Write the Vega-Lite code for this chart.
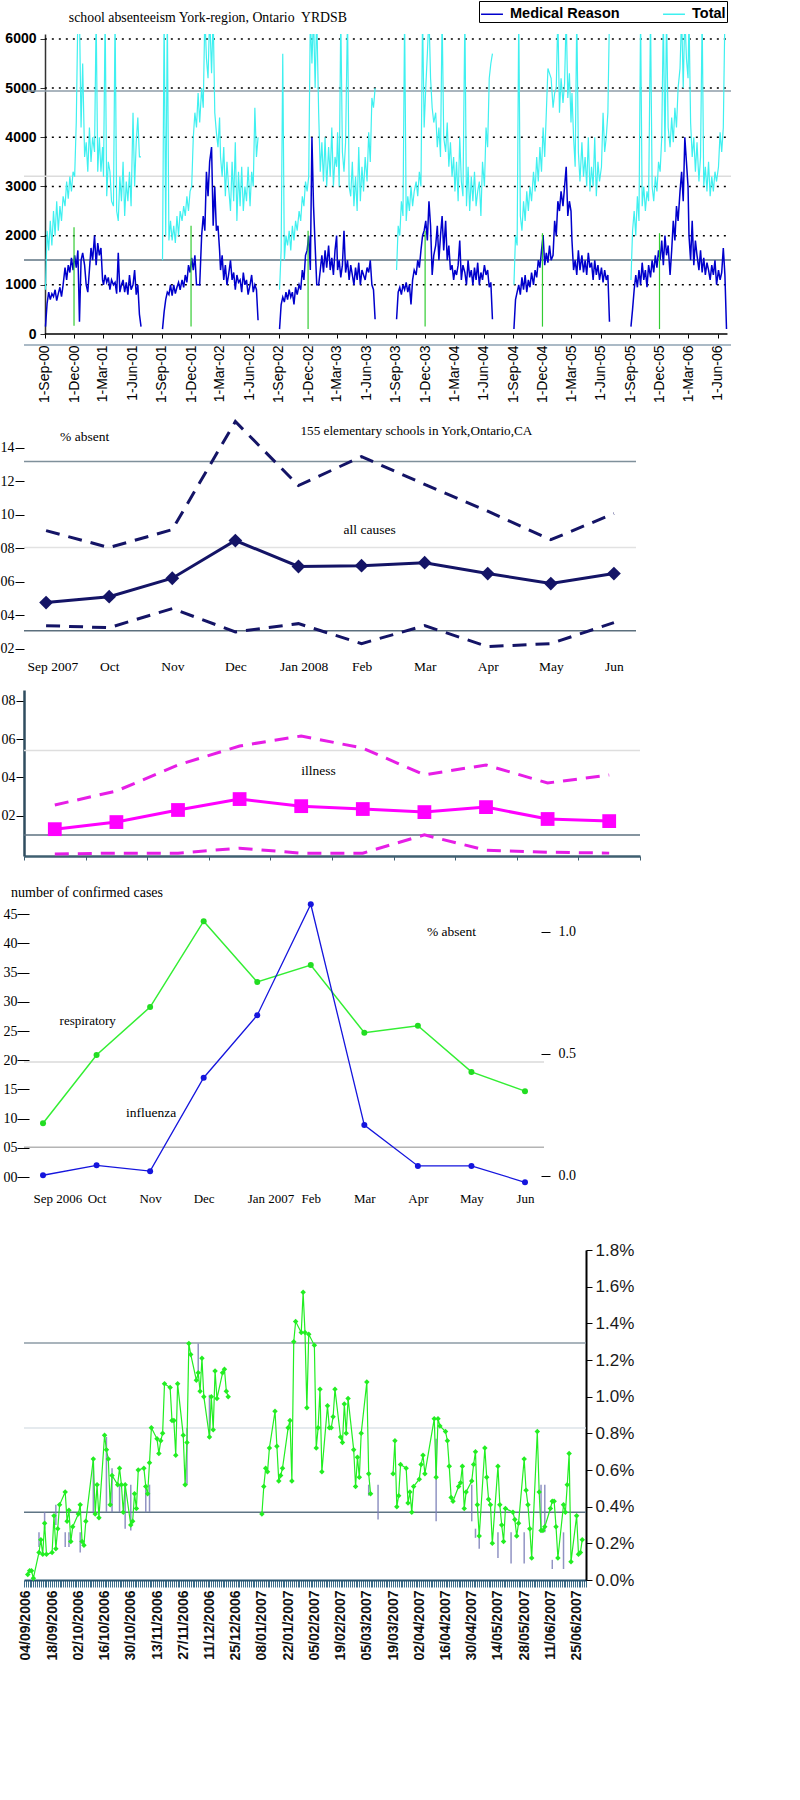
{
  "$schema": "https://vega.github.io/schema/vega-lite/v6.json",
  "padding": 0,
  "background": "white",
  "config": {
    "view": {"stroke": null},
    "font": "Liberation Sans",
    "axis": {"grid": false, "labelOverlap": false, "labelBound": false}
  },
  "datasets": {
    "abs": [
      {"d":"2000-09-03","m":150,"t":900},{"d":"2000-09-08","m":620,"t":2100},{"d":"2000-09-13","m":850,"t":1700},{"d":"2000-09-18","m":700,"t":2300},{"d":"2000-09-23","m":820,"t":1800},{"d":"2000-09-28","m":760,"t":2500},
      {"d":"2000-10-03","m":900,"t":2000},{"d":"2000-10-08","m":680,"t":2700},{"d":"2000-10-13","m":820,"t":2100},{"d":"2000-10-18","m":950,"t":2600},{"d":"2000-10-23","m":760,"t":2300},{"d":"2000-10-28","m":1000,"t":2800},
      {"d":"2000-11-03","m":1350,"t":2600},{"d":"2000-11-08","m":1100,"t":3100},{"d":"2000-11-13","m":1400,"t":2750},{"d":"2000-11-18","m":1250,"t":3200},{"d":"2000-11-23","m":1550,"t":2900},{"d":"2000-11-28","m":1300,"t":3300},
      {"d":"2000-12-03","m":1600,"t":3200},{"d":"2000-12-08","m":1350,"t":4300},{"d":"2000-12-13","m":1700,"t":6500},{"d":"2000-12-18","m":250,"t":6500},{"d":"2000-12-23","m":1500,"t":4200},{"d":"2000-12-28","m":1650,"t":5500},
      {"d":"2001-01-03","m":1400,"t":3600},{"d":"2001-01-08","m":1000,"t":3900},{"d":"2001-01-13","m":850,"t":3300},{"d":"2001-01-18","m":1300,"t":4200},{"d":"2001-01-23","m":1750,"t":3500},{"d":"2001-01-28","m":1500,"t":4000},
      {"d":"2001-02-03","m":2000,"t":3700},{"d":"2001-02-08","m":1400,"t":6500},{"d":"2001-02-13","m":1850,"t":3300},{"d":"2001-02-18","m":1600,"t":4000},{"d":"2001-02-23","m":1750,"t":3300},{"d":"2001-02-28","m":1100,"t":3800},
      {"d":"2001-03-03","m":1000,"t":3200},{"d":"2001-03-08","m":1200,"t":6500},{"d":"2001-03-13","m":1050,"t":2800},{"d":"2001-03-18","m":1150,"t":3500},{"d":"2001-03-23","m":900,"t":3300},{"d":"2001-03-28","m":1100,"t":2700},
      {"d":"2001-04-03","m":1000,"t":2600},{"d":"2001-04-08","m":1050,"t":6500},{"d":"2001-04-13","m":820,"t":2500},{"d":"2001-04-18","m":1650,"t":2300},{"d":"2001-04-23","m":850,"t":3200},{"d":"2001-04-28","m":1000,"t":2700},
      {"d":"2001-05-03","m":1100,"t":3500},{"d":"2001-05-08","m":850,"t":2400},{"d":"2001-05-13","m":1050,"t":3100},{"d":"2001-05-18","m":800,"t":2700},{"d":"2001-05-23","m":1200,"t":3300},{"d":"2001-05-28","m":900,"t":2600},
      {"d":"2001-06-03","m":1000,"t":4500},{"d":"2001-06-08","m":1300,"t":3000},{"d":"2001-06-13","m":800,"t":3900},{"d":"2001-06-18","m":1000,"t":4400},{"d":"2001-06-23","m":400,"t":3600},{"d":"2001-06-28","m":150,"t":3600},

      {"d":"2001-09-03","m":100,"t":1500},{"d":"2001-09-08","m":450,"t":6500},{"d":"2001-09-13","m":700,"t":2000},{"d":"2001-09-18","m":850,"t":6500},{"d":"2001-09-23","m":800,"t":1900},{"d":"2001-09-28","m":1000,"t":2300},
      {"d":"2001-10-03","m":780,"t":1900},{"d":"2001-10-08","m":1000,"t":2200},{"d":"2001-10-13","m":820,"t":1850},{"d":"2001-10-18","m":950,"t":2400},{"d":"2001-10-23","m":1050,"t":2000},{"d":"2001-10-28","m":900,"t":2500},
      {"d":"2001-11-03","m":1100,"t":2300},{"d":"2001-11-08","m":950,"t":2600},{"d":"2001-11-13","m":1200,"t":2400},{"d":"2001-11-18","m":1050,"t":2800},{"d":"2001-11-23","m":1400,"t":2500},{"d":"2001-11-28","m":1250,"t":2900},
      {"d":"2001-12-03","m":1550,"t":3000},{"d":"2001-12-08","m":1300,"t":4000},{"d":"2001-12-13","m":1600,"t":4500},{"d":"2001-12-18","m":1000,"t":4200},{"d":"2001-12-23","m":1000,"t":4900},{"d":"2001-12-28","m":1000,"t":4300},
      {"d":"2002-01-03","m":2000,"t":5000},{"d":"2002-01-08","m":2400,"t":4600},{"d":"2002-01-13","m":2100,"t":6500},{"d":"2002-01-18","m":3300,"t":5600},{"d":"2002-01-23","m":2800,"t":5200},{"d":"2002-01-28","m":3500,"t":6500},
      {"d":"2002-02-03","m":3800,"t":5300},{"d":"2002-02-08","m":2200,"t":6500},{"d":"2002-02-13","m":3000,"t":4500},{"d":"2002-02-18","m":2100,"t":4100},{"d":"2002-02-23","m":2200,"t":3800},{"d":"2002-02-28","m":1700,"t":4400},
      {"d":"2002-03-03","m":1300,"t":3600},{"d":"2002-03-08","m":1600,"t":3200},{"d":"2002-03-13","m":1100,"t":3800},{"d":"2002-03-18","m":1400,"t":2800},{"d":"2002-03-23","m":1000,"t":3500},{"d":"2002-03-28","m":1200,"t":3000},
      {"d":"2002-04-03","m":1500,"t":2500},{"d":"2002-04-08","m":1100,"t":3500},{"d":"2002-04-13","m":1250,"t":2700},{"d":"2002-04-18","m":900,"t":3900},{"d":"2002-04-23","m":1200,"t":2300},{"d":"2002-04-28","m":1050,"t":3300},
      {"d":"2002-05-03","m":1100,"t":2600},{"d":"2002-05-08","m":850,"t":3400},{"d":"2002-05-13","m":1250,"t":2500},{"d":"2002-05-18","m":1000,"t":3000},{"d":"2002-05-23","m":1100,"t":2700},{"d":"2002-05-28","m":800,"t":3400},
      {"d":"2002-06-03","m":1000,"t":2600},{"d":"2002-06-08","m":1200,"t":3300},{"d":"2002-06-13","m":850,"t":3000},{"d":"2002-06-18","m":1000,"t":4600},{"d":"2002-06-23","m":900,"t":3600},{"d":"2002-06-28","m":280,"t":4000},

      {"d":"2002-09-03","m":100,"t":900},{"d":"2002-09-08","m":600,"t":1700},{"d":"2002-09-13","m":750,"t":5700},{"d":"2002-09-18","m":650,"t":1500},{"d":"2002-09-23","m":850,"t":2000},{"d":"2002-09-28","m":700,"t":1800},
      {"d":"2002-10-03","m":900,"t":2100},{"d":"2002-10-08","m":750,"t":1700},{"d":"2002-10-13","m":850,"t":2200},{"d":"2002-10-18","m":600,"t":1900},{"d":"2002-10-23","m":950,"t":2300},{"d":"2002-10-28","m":800,"t":2100},
      {"d":"2002-11-03","m":1000,"t":2500},{"d":"2002-11-08","m":900,"t":2300},{"d":"2002-11-13","m":1300,"t":2800},{"d":"2002-11-18","m":1100,"t":2600},{"d":"2002-11-23","m":1600,"t":3100},{"d":"2002-11-28","m":1700,"t":2900},
      {"d":"2002-12-03","m":2000,"t":3200},{"d":"2002-12-08","m":1300,"t":6500},{"d":"2002-12-13","m":4000,"t":5500},{"d":"2002-12-18","m":2600,"t":6500},{"d":"2002-12-23","m":1800,"t":5000},{"d":"2002-12-28","m":1000,"t":6500},
      {"d":"2003-01-03","m":1000,"t":4500},{"d":"2003-01-08","m":1300,"t":3300},{"d":"2003-01-13","m":1600,"t":3900},{"d":"2003-01-18","m":1250,"t":3100},{"d":"2003-01-23","m":1700,"t":4000},{"d":"2003-01-28","m":1350,"t":3000},
      {"d":"2003-02-03","m":1800,"t":3800},{"d":"2003-02-08","m":1300,"t":3200},{"d":"2003-02-13","m":1550,"t":4200},{"d":"2003-02-18","m":1200,"t":3000},{"d":"2003-02-23","m":1700,"t":3600},{"d":"2003-02-28","m":2000,"t":3400},
      {"d":"2003-03-03","m":1300,"t":4100},{"d":"2003-03-08","m":1500,"t":3000},{"d":"2003-03-13","m":1150,"t":6500},{"d":"2003-03-18","m":1400,"t":3700},{"d":"2003-03-23","m":2100,"t":3300},{"d":"2003-03-28","m":1250,"t":3900},
      {"d":"2003-04-03","m":1500,"t":6500},{"d":"2003-04-08","m":1100,"t":3000},{"d":"2003-04-13","m":1400,"t":2800},{"d":"2003-04-18","m":1200,"t":3500},{"d":"2003-04-23","m":1000,"t":2600},{"d":"2003-04-28","m":1350,"t":3200},
      {"d":"2003-05-03","m":1100,"t":2500},{"d":"2003-05-08","m":1450,"t":3800},{"d":"2003-05-13","m":1000,"t":2700},{"d":"2003-05-18","m":1300,"t":3400},{"d":"2003-05-23","m":1200,"t":2900},{"d":"2003-05-28","m":1100,"t":3600},
      {"d":"2003-06-03","m":1350,"t":3100},{"d":"2003-06-08","m":1250,"t":4100},{"d":"2003-06-13","m":1500,"t":3500},{"d":"2003-06-18","m":1000,"t":4800},{"d":"2003-06-23","m":900,"t":4600},{"d":"2003-06-28","m":300,"t":5000},

      {"d":"2003-09-03","m":300,"t":1300},{"d":"2003-09-08","m":850,"t":2200},{"d":"2003-09-13","m":950,"t":2000},{"d":"2003-09-18","m":800,"t":2700},{"d":"2003-09-23","m":1000,"t":2400},{"d":"2003-09-28","m":900,"t":6500},
      {"d":"2003-10-03","m":1050,"t":2300},{"d":"2003-10-08","m":850,"t":2800},{"d":"2003-10-13","m":1000,"t":2500},{"d":"2003-10-18","m":600,"t":3000},{"d":"2003-10-23","m":1100,"t":2600},{"d":"2003-10-28","m":1300,"t":2900},
      {"d":"2003-11-03","m":1200,"t":3100},{"d":"2003-11-08","m":1500,"t":2800},{"d":"2003-11-13","m":1350,"t":3300},{"d":"2003-11-18","m":1700,"t":3000},{"d":"2003-11-23","m":2000,"t":6500},{"d":"2003-11-28","m":2100,"t":4200},
      {"d":"2003-12-03","m":2300,"t":5000},{"d":"2003-12-08","m":1900,"t":5700},{"d":"2003-12-13","m":2700,"t":6500},{"d":"2003-12-18","m":2200,"t":5200},{"d":"2003-12-23","m":1200,"t":4600},{"d":"2003-12-28","m":1600,"t":4300},
      {"d":"2004-01-03","m":1800,"t":4500},{"d":"2004-01-08","m":2200,"t":3800},{"d":"2004-01-13","m":1500,"t":4200},{"d":"2004-01-18","m":2000,"t":3600},{"d":"2004-01-23","m":2400,"t":6500},{"d":"2004-01-28","m":1700,"t":4000},
      {"d":"2004-02-03","m":2300,"t":3700},{"d":"2004-02-08","m":1500,"t":4300},{"d":"2004-02-13","m":1800,"t":3400},{"d":"2004-02-18","m":1300,"t":3900},{"d":"2004-02-23","m":1400,"t":3200},{"d":"2004-02-28","m":1100,"t":3600},
      {"d":"2004-03-03","m":1300,"t":2900},{"d":"2004-03-08","m":1200,"t":3500},{"d":"2004-03-13","m":1400,"t":2700},{"d":"2004-03-18","m":1900,"t":4000},{"d":"2004-03-23","m":1100,"t":3100},{"d":"2004-03-28","m":1400,"t":2800},
      {"d":"2004-04-03","m":1250,"t":6500},{"d":"2004-04-08","m":1000,"t":2600},{"d":"2004-04-13","m":1500,"t":3400},{"d":"2004-04-18","m":1150,"t":2500},{"d":"2004-04-23","m":1300,"t":3200},{"d":"2004-04-28","m":1000,"t":2700},
      {"d":"2004-05-03","m":1350,"t":3300},{"d":"2004-05-08","m":1100,"t":2600},{"d":"2004-05-13","m":1450,"t":2900},{"d":"2004-05-18","m":1000,"t":3100},{"d":"2004-05-23","m":1250,"t":2400},{"d":"2004-05-28","m":1100,"t":3500},
      {"d":"2004-06-03","m":1400,"t":3000},{"d":"2004-06-08","m":1200,"t":4200},{"d":"2004-06-13","m":1300,"t":3800},{"d":"2004-06-18","m":950,"t":5200},{"d":"2004-06-23","m":1050,"t":5500},{"d":"2004-06-28","m":300,"t":5700},

      {"d":"2004-09-03","m":100,"t":1000},{"d":"2004-09-08","m":700,"t":2000},{"d":"2004-09-13","m":850,"t":1800},{"d":"2004-09-18","m":1000,"t":6500},{"d":"2004-09-23","m":800,"t":2400},{"d":"2004-09-28","m":1150,"t":2100},
      {"d":"2004-10-03","m":900,"t":2700},{"d":"2004-10-08","m":1200,"t":2300},{"d":"2004-10-13","m":850,"t":2900},{"d":"2004-10-18","m":1100,"t":2500},{"d":"2004-10-23","m":950,"t":3000},{"d":"2004-10-28","m":1250,"t":2700},
      {"d":"2004-11-03","m":1000,"t":3300},{"d":"2004-11-08","m":1300,"t":2900},{"d":"2004-11-13","m":1150,"t":3600},{"d":"2004-11-18","m":1500,"t":3100},{"d":"2004-11-23","m":1350,"t":3800},{"d":"2004-11-28","m":1700,"t":3300},
      {"d":"2004-12-03","m":2000,"t":4200},{"d":"2004-12-08","m":1400,"t":3600},{"d":"2004-12-13","m":1650,"t":4500},{"d":"2004-12-18","m":1450,"t":5400},{"d":"2004-12-23","m":1800,"t":5300},{"d":"2004-12-28","m":1500,"t":5200},
      {"d":"2005-01-03","m":1600,"t":4600},{"d":"2005-01-08","m":2300,"t":4900},{"d":"2005-01-13","m":2000,"t":5000},{"d":"2005-01-18","m":2700,"t":6500},{"d":"2005-01-23","m":2500,"t":4500},{"d":"2005-01-28","m":2900,"t":5200},
      {"d":"2005-02-03","m":2600,"t":4700},{"d":"2005-02-08","m":3000,"t":5100},{"d":"2005-02-13","m":3400,"t":6500},{"d":"2005-02-18","m":2400,"t":4800},{"d":"2005-02-23","m":2700,"t":5300},{"d":"2005-02-28","m":2500,"t":4300},
      {"d":"2005-03-03","m":1900,"t":4900},{"d":"2005-03-08","m":1300,"t":4000},{"d":"2005-03-13","m":1500,"t":3400},{"d":"2005-03-18","m":1200,"t":6500},{"d":"2005-03-23","m":1700,"t":3700},{"d":"2005-03-28","m":1300,"t":3100},
      {"d":"2005-04-03","m":1600,"t":3900},{"d":"2005-04-08","m":1250,"t":3200},{"d":"2005-04-13","m":1500,"t":3600},{"d":"2005-04-18","m":1200,"t":3000},{"d":"2005-04-23","m":1650,"t":4000},{"d":"2005-04-28","m":1350,"t":2900},
      {"d":"2005-05-03","m":1450,"t":3400},{"d":"2005-05-08","m":1100,"t":3000},{"d":"2005-05-13","m":1500,"t":4000},{"d":"2005-05-18","m":1200,"t":2800},{"d":"2005-05-23","m":1400,"t":3500},{"d":"2005-05-28","m":1100,"t":3100},
      {"d":"2005-06-03","m":1350,"t":3400},{"d":"2005-06-08","m":1050,"t":4500},{"d":"2005-06-13","m":1300,"t":3700},{"d":"2005-06-18","m":1100,"t":4000},{"d":"2005-06-23","m":1200,"t":4500},{"d":"2005-06-28","m":250,"t":6500},

      {"d":"2005-09-03","m":150,"t":1100},{"d":"2005-09-08","m":500,"t":2100},{"d":"2005-09-13","m":900,"t":2500},{"d":"2005-09-18","m":1200,"t":2000},{"d":"2005-09-23","m":950,"t":2800},{"d":"2005-09-28","m":1300,"t":2300},
      {"d":"2005-10-03","m":1000,"t":6500},{"d":"2005-10-08","m":1450,"t":2600},{"d":"2005-10-13","m":1100,"t":3000},{"d":"2005-10-18","m":1300,"t":2500},{"d":"2005-10-23","m":950,"t":2900},{"d":"2005-10-28","m":1400,"t":2700},
      {"d":"2005-11-03","m":1150,"t":6500},{"d":"2005-11-08","m":1500,"t":3000},{"d":"2005-11-13","m":1250,"t":2700},{"d":"2005-11-18","m":1600,"t":3200},{"d":"2005-11-23","m":1350,"t":2900},{"d":"2005-11-28","m":1700,"t":3500},
      {"d":"2005-12-03","m":1500,"t":3300},{"d":"2005-12-08","m":1900,"t":4000},{"d":"2005-12-13","m":1400,"t":6500},{"d":"2005-12-18","m":2000,"t":3700},{"d":"2005-12-23","m":1600,"t":6500},{"d":"2005-12-28","m":1800,"t":4200},
      {"d":"2006-01-03","m":1200,"t":3800},{"d":"2006-01-08","m":1700,"t":4400},{"d":"2006-01-13","m":2300,"t":3900},{"d":"2006-01-18","m":1900,"t":4600},{"d":"2006-01-23","m":2600,"t":4200},{"d":"2006-01-28","m":2300,"t":5000},
      {"d":"2006-02-03","m":2900,"t":5400},{"d":"2006-02-08","m":3300,"t":6500},{"d":"2006-02-13","m":2700,"t":5000},{"d":"2006-02-18","m":4000,"t":6500},{"d":"2006-02-23","m":3500,"t":5600},{"d":"2006-02-28","m":3000,"t":5200},
      {"d":"2006-03-03","m":2000,"t":6500},{"d":"2006-03-08","m":1500,"t":4300},{"d":"2006-03-13","m":2300,"t":3600},{"d":"2006-03-18","m":1400,"t":4000},{"d":"2006-03-23","m":1900,"t":3300},{"d":"2006-03-28","m":1600,"t":3900},
      {"d":"2006-04-03","m":1300,"t":3100},{"d":"2006-04-08","m":1700,"t":3600},{"d":"2006-04-13","m":1250,"t":6500},{"d":"2006-04-18","m":1550,"t":3000},{"d":"2006-04-23","m":1200,"t":3400},{"d":"2006-04-28","m":1450,"t":2900},
      {"d":"2006-05-03","m":1300,"t":3500},{"d":"2006-05-08","m":1100,"t":2800},{"d":"2006-05-13","m":1400,"t":3200},{"d":"2006-05-18","m":1200,"t":2900},{"d":"2006-05-23","m":1500,"t":3300},{"d":"2006-05-28","m":1000,"t":3100},
      {"d":"2006-06-03","m":1300,"t":3400},{"d":"2006-06-08","m":1100,"t":4100},{"d":"2006-06-13","m":1250,"t":3700},{"d":"2006-06-18","m":1750,"t":4200},{"d":"2006-06-23","m":1200,"t":6500},{"d":"2006-06-28","m":100,"t":6500}
    ],
    "gr": [
      {"g":"2000-12-01","a":170,"b":2170},{"g":"2001-12-01","a":150,"b":2200},{"g":"2002-12-01","a":100,"b":2100},
      {"g":"2003-12-01","a":150,"b":2100},{"g":"2004-12-01","a":150,"b":2050},{"g":"2005-12-01","a":100,"b":2050}
    ],
    "grid": [{"v":1000},{"v":2000},{"v":3000},{"v":4000},{"v":5000},{"v":6000}],
    "ac": [
      {"m":"Sep 2007","all":4.75,"allHi":9.04,"allLo":3.37,"ill":1.3,"illHi":2.56,"illLo":0},
      {"m":"Oct","all":5.1,"allHi":8.03,"allLo":3.25,"ill":1.67,"illHi":3.29,"illLo":0.05},
      {"m":"Nov","all":6.2,"allHi":9.1,"allLo":4.39,"ill":2.3,"illHi":4.65,"illLo":0.05},
      {"m":"Dec","all":8.45,"allHi":15.55,"allLo":3.0,"ill":2.87,"illHi":5.64,"illLo":0.31},
      {"m":"Jan 2008","all":6.9,"allHi":11.73,"allLo":3.49,"ill":2.5,"illHi":6.16,"illLo":0.05},
      {"m":"Feb","all":6.95,"allHi":13.46,"allLo":2.3,"ill":2.35,"illHi":5.53,"illLo":0.05},
      {"m":"Mar","all":7.13,"allHi":11.8,"allLo":3.37,"ill":2.19,"illHi":4.13,"illLo":1.0},
      {"m":"Apr","all":6.48,"allHi":10.2,"allLo":2.12,"ill":2.45,"illHi":4.65,"illLo":0.2},
      {"m":"May","all":5.88,"allHi":8.5,"allLo":2.3,"ill":1.83,"illHi":3.71,"illLo":0.1},
      {"m":"Jun","all":6.48,"allHi":10.06,"allLo":3.55,"ill":1.72,"illHi":4.13,"illLo":0.05}
    ],
    "cc": [
      {"m":"Sep 2006","resp":9.2,"flu":0.3},{"m":"Oct","resp":20.9,"flu":2.0},{"m":"Nov","resp":29.1,"flu":1.0},
      {"m":"Dec","resp":43.8,"flu":17.0},{"m":"Jan 2007","resp":33.4,"flu":27.7},{"m":"Feb","resp":36.3,"flu":46.7},
      {"m":"Mar","resp":24.7,"flu":8.9},{"m":"Apr","resp":25.9,"flu":1.9},{"m":"May","resp":18.0,"flu":1.9},{"m":"Jun","resp":14.7,"flu":-0.9}
    ],
    "bars": [
      {"d":"2006-09-11","a":0.26,"b":0.18},{"d":"2006-09-14","a":0.37,"b":0.28},{"d":"2006-09-20","a":0.41,"b":0.30},
      {"d":"2006-09-25","a":0.26,"b":0.18},{"d":"2006-09-27","a":0.26,"b":0.18},{"d":"2006-10-03","a":0.26,"b":0.15},
      {"d":"2006-10-10","a":0.67,"b":0.37},{"d":"2006-10-17","a":0.78,"b":0.37},{"d":"2006-10-20","a":0.61,"b":0.37},
      {"d":"2006-10-24","a":0.52,"b":0.37},{"d":"2006-10-27","a":0.52,"b":0.28},{"d":"2006-10-30","a":0.52,"b":0.27},
      {"d":"2006-11-07","a":0.52,"b":0.37},{"d":"2006-11-09","a":0.52,"b":0.37},{"d":"2006-11-29","a":0.83,"b":0.52},
      {"d":"2006-12-05","a":1.29,"b":1.10},{"d":"2006-12-11","a":1.01,"b":0.77},
      {"d":"2007-03-06","a":0.52,"b":0.46},{"d":"2007-03-11","a":0.52,"b":0.33},{"d":"2007-04-11","a":0.77,"b":0.32},
      {"d":"2007-04-30","a":0.52,"b":0.32},{"d":"2007-05-02","a":0.28,"b":0.23},{"d":"2007-05-04","a":0.26,"b":0.17},
      {"d":"2007-05-14","a":0.26,"b":0.12},{"d":"2007-05-21","a":0.26,"b":0.09},{"d":"2007-05-28","a":0.26,"b":0.09},
      {"d":"2007-06-06","a":0.52,"b":0.26},{"d":"2007-06-08","a":0.52,"b":0.26},{"d":"2007-06-12","a":0.11,"b":0.06},
      {"d":"2007-06-18","a":0.26,"b":0.06}
    ],
    "daily": [
      {"d":"2006-09-05","v":0.03},{"d":"2006-09-06","v":0.05},{"d":"2006-09-07","v":0.05},{"d":"2006-09-08","v":0.01},
      {"d":"2006-09-11","v":0.15},{"d":"2006-09-12","v":0.22},{"d":"2006-09-13","v":0.14},{"d":"2006-09-14","v":0.31},{"d":"2006-09-15","v":0.14},
      {"d":"2006-09-18","v":0.15},{"d":"2006-09-19","v":0.35},{"d":"2006-09-20","v":0.17},{"d":"2006-09-21","v":0.28},{"d":"2006-09-22","v":0.41},
      {"d":"2006-09-25","v":0.48},{"d":"2006-09-26","v":0.32},{"d":"2006-09-27","v":0.38},{"d":"2006-09-28","v":0.21},{"d":"2006-09-29","v":0.29},
      {"d":"2006-10-02","v":0.36},{"d":"2006-10-03","v":0.41},{"d":"2006-10-04","v":0.21},{"d":"2006-10-05","v":0.19},{"d":"2006-10-06","v":0.32},
      {"d":"2006-10-10","v":0.66},{"d":"2006-10-11","v":0.36},{"d":"2006-10-12","v":0.52},{"d":"2006-10-13","v":0.34},
      {"d":"2006-10-16","v":0.79},{"d":"2006-10-17","v":0.71},{"d":"2006-10-18","v":0.66},{"d":"2006-10-19","v":0.41},{"d":"2006-10-20","v":0.57},
      {"d":"2006-10-23","v":0.52},{"d":"2006-10-24","v":0.61},{"d":"2006-10-25","v":0.52},{"d":"2006-10-26","v":0.37},{"d":"2006-10-27","v":0.52},
      {"d":"2006-10-30","v":0.30},{"d":"2006-10-31","v":0.32},{"d":"2006-11-01","v":0.47},{"d":"2006-11-02","v":0.39},{"d":"2006-11-03","v":0.60},
      {"d":"2006-11-06","v":0.61},{"d":"2006-11-07","v":0.51},{"d":"2006-11-08","v":0.47},{"d":"2006-11-09","v":0.64},{"d":"2006-11-10","v":0.83},
      {"d":"2006-11-13","v":0.77},{"d":"2006-11-14","v":0.69},{"d":"2006-11-15","v":0.76},{"d":"2006-11-16","v":0.80},{"d":"2006-11-17","v":1.07},
      {"d":"2006-11-20","v":1.05},{"d":"2006-11-21","v":0.87},{"d":"2006-11-22","v":0.87},{"d":"2006-11-23","v":0.68},{"d":"2006-11-24","v":1.07},
      {"d":"2006-11-27","v":0.79},{"d":"2006-11-28","v":0.52},{"d":"2006-11-29","v":0.75},{"d":"2006-11-30","v":1.29},{"d":"2006-12-01","v":1.23},
      {"d":"2006-12-04","v":1.09},{"d":"2006-12-05","v":1.13},{"d":"2006-12-06","v":1.03},{"d":"2006-12-07","v":1.21},{"d":"2006-12-08","v":1.00},
      {"d":"2006-12-11","v":0.78},{"d":"2006-12-12","v":1.00},{"d":"2006-12-13","v":0.82},{"d":"2006-12-14","v":1.14},{"d":"2006-12-15","v":0.99},
      {"d":"2006-12-18","v":1.13},{"d":"2006-12-19","v":1.15},{"d":"2006-12-20","v":1.03},{"d":"2006-12-21","v":1.00},
      {"d":"2007-01-08","v":0.36},{"d":"2007-01-09","v":0.51},{"d":"2007-01-10","v":0.61},{"d":"2007-01-11","v":0.59},{"d":"2007-01-12","v":0.72},
      {"d":"2007-01-15","v":0.92},{"d":"2007-01-16","v":0.73},{"d":"2007-01-17","v":0.54},{"d":"2007-01-18","v":0.57},{"d":"2007-01-19","v":0.61},
      {"d":"2007-01-22","v":0.83},{"d":"2007-01-23","v":0.87},{"d":"2007-01-24","v":0.54},{"d":"2007-01-25","v":1.30},{"d":"2007-01-26","v":1.41},
      {"d":"2007-01-29","v":1.35},{"d":"2007-01-30","v":1.57},{"d":"2007-01-31","v":1.35},{"d":"2007-02-01","v":0.94},{"d":"2007-02-02","v":1.34},
      {"d":"2007-02-05","v":1.28},{"d":"2007-02-06","v":0.72},{"d":"2007-02-07","v":0.83},{"d":"2007-02-08","v":1.04},{"d":"2007-02-09","v":0.59},
      {"d":"2007-02-12","v":0.95},{"d":"2007-02-13","v":0.83},{"d":"2007-02-14","v":0.83},{"d":"2007-02-15","v":0.89},{"d":"2007-02-16","v":1.04},
      {"d":"2007-02-19","v":0.78},{"d":"2007-02-20","v":0.75},{"d":"2007-02-21","v":0.96},{"d":"2007-02-22","v":0.80},{"d":"2007-02-23","v":0.99},
      {"d":"2007-02-26","v":0.71},{"d":"2007-02-27","v":0.51},{"d":"2007-02-28","v":0.67},{"d":"2007-03-01","v":0.56},{"d":"2007-03-02","v":0.80},
      {"d":"2007-03-05","v":1.08},{"d":"2007-03-06","v":0.58},{"d":"2007-03-07","v":0.47},
      {"d":"2007-03-19","v":0.58},{"d":"2007-03-20","v":0.76},{"d":"2007-03-21","v":0.40},{"d":"2007-03-22","v":0.46},{"d":"2007-03-23","v":0.63},
      {"d":"2007-03-26","v":0.61},{"d":"2007-03-27","v":0.42},{"d":"2007-03-28","v":0.48},{"d":"2007-03-29","v":0.37},{"d":"2007-03-30","v":0.51},
      {"d":"2007-04-02","v":0.55},{"d":"2007-04-03","v":0.63},{"d":"2007-04-04","v":0.68},{"d":"2007-04-05","v":0.58},
      {"d":"2007-04-10","v":0.88},{"d":"2007-04-11","v":0.56},{"d":"2007-04-12","v":0.88},{"d":"2007-04-13","v":0.84},
      {"d":"2007-04-16","v":0.81},{"d":"2007-04-17","v":0.76},{"d":"2007-04-18","v":0.62},{"d":"2007-04-19","v":0.45},{"d":"2007-04-20","v":0.43},
      {"d":"2007-04-23","v":0.51},{"d":"2007-04-24","v":0.53},{"d":"2007-04-25","v":0.62},{"d":"2007-04-26","v":0.39},{"d":"2007-04-27","v":0.48},
      {"d":"2007-04-30","v":0.54},{"d":"2007-05-01","v":0.63},{"d":"2007-05-02","v":0.70},{"d":"2007-05-03","v":0.41},{"d":"2007-05-04","v":0.24},
      {"d":"2007-05-07","v":0.72},{"d":"2007-05-08","v":0.56},{"d":"2007-05-09","v":0.44},{"d":"2007-05-10","v":0.41},{"d":"2007-05-11","v":0.20},
      {"d":"2007-05-14","v":0.62},{"d":"2007-05-15","v":0.41},{"d":"2007-05-16","v":0.30},{"d":"2007-05-17","v":0.21},{"d":"2007-05-18","v":0.39},
      {"d":"2007-05-22","v":0.37},{"d":"2007-05-23","v":0.33},{"d":"2007-05-24","v":0.24},{"d":"2007-05-25","v":0.31},
      {"d":"2007-05-28","v":0.66},{"d":"2007-05-29","v":0.49},{"d":"2007-05-30","v":0.41},{"d":"2007-05-31","v":0.28},{"d":"2007-06-01","v":0.12},
      {"d":"2007-06-04","v":0.81},{"d":"2007-06-05","v":0.48},{"d":"2007-06-06","v":0.27},{"d":"2007-06-07","v":0.27},{"d":"2007-06-08","v":0.29},
      {"d":"2007-06-11","v":0.39},{"d":"2007-06-12","v":0.43},{"d":"2007-06-13","v":0.43},{"d":"2007-06-14","v":0.29},{"d":"2007-06-15","v":0.12},
      {"d":"2007-06-18","v":0.41},{"d":"2007-06-19","v":0.37},{"d":"2007-06-20","v":0.52},{"d":"2007-06-21","v":0.69},{"d":"2007-06-22","v":0.10},
      {"d":"2007-06-25","v":0.35},{"d":"2007-06-26","v":0.14},{"d":"2007-06-27","v":0.15},{"d":"2007-06-28","v":0.22}
    ]
  },
  "spacing": 11,
  "vconcat": [
    {
      "width": 707,
      "height": 300,
      "title": {"text": "school absenteeism York-region, Ontario\u00a0 YRDSB", "anchor": "start", "font": "Liberation Serif", "fontSize": 13.8, "fontWeight": "normal", "color": "black", "dx": 64, "offset": 7},
      "layer": [
        {"data": {"values": [{}]}, "mark": {"type": "rule", "color": "#8e9ca8", "strokeWidth": 1.5}, "encoding": {"y": {"datum": 4940, "type": "quantitative"}}},
        {"data": {"values": [{}]}, "mark": {"type": "rule", "color": "#dcdcdc", "strokeWidth": 1.5}, "encoding": {"y": {"datum": 3210, "type": "quantitative"}}},
        {"data": {"values": [{}]}, "mark": {"type": "rule", "color": "#5f7483", "strokeWidth": 1.5}, "encoding": {"y": {"datum": 1505, "type": "quantitative"}}},
        {"data": {"values": [{}]}, "mark": {"type": "rule", "color": "#8fa3b3", "strokeWidth": 1.5, "clip": false}, "encoding": {"y": {"datum": -224, "type": "quantitative"}}},
        {
          "data": {"name": "grid"},
          "mark": {"type": "rule", "color": "black", "strokeWidth": 1.5, "strokeDash": [2, 5]},
          "encoding": {
            "y": {"field": "v", "type": "quantitative"},
            "x": {"datum": {"year": 2000, "month": 9, "date": 1}, "type": "temporal"},
            "x2": {"datum": {"year": 2006, "month": 7, "date": 10}}
          }
        },
        {
          "data": {"values": [{}]},
          "mark": {"type": "rule", "color": "black", "strokeWidth": 1.5},
          "encoding": {
            "y": {"datum": 0, "type": "quantitative"},
            "x": {"datum": {"year": 2000, "month": 9, "date": 1}, "type": "temporal"},
            "x2": {"datum": {"year": 2006, "month": 7, "date": 1}}
          }
        },
        {
          "data": {"name": "abs"},
          "transform": [{"calculate": "year(datum.d) + (month(datum.d) > 6 ? 1 : 0)", "as": "s"}],
          "mark": {"type": "line", "strokeWidth": 1.2, "clip": true},
          "encoding": {
            "x": {
              "field": "d", "type": "temporal",
              "scale": {"domain": [{"year": 2000, "month": 6, "date": 28}, {"year": 2006, "month": 7, "date": 12}]},
              "axis": {
                "values": [
                  {"year": 2000, "month": 9, "date": 1}, {"year": 2000, "month": 12, "date": 1},
                  {"year": 2001, "month": 3, "date": 1}, {"year": 2001, "month": 6, "date": 1}, {"year": 2001, "month": 9, "date": 1}, {"year": 2001, "month": 12, "date": 1},
                  {"year": 2002, "month": 3, "date": 1}, {"year": 2002, "month": 6, "date": 1}, {"year": 2002, "month": 9, "date": 1}, {"year": 2002, "month": 12, "date": 1},
                  {"year": 2003, "month": 3, "date": 1}, {"year": 2003, "month": 6, "date": 1}, {"year": 2003, "month": 9, "date": 1}, {"year": 2003, "month": 12, "date": 1},
                  {"year": 2004, "month": 3, "date": 1}, {"year": 2004, "month": 6, "date": 1}, {"year": 2004, "month": 9, "date": 1}, {"year": 2004, "month": 12, "date": 1},
                  {"year": 2005, "month": 3, "date": 1}, {"year": 2005, "month": 6, "date": 1}, {"year": 2005, "month": 9, "date": 1}, {"year": 2005, "month": 12, "date": 1},
                  {"year": 2006, "month": 3, "date": 1}, {"year": 2006, "month": 6, "date": 1}
                ],
                "tickCount": 100,
                "format": "%-d-%b-%y", "labelAngle": -90, "labelFontSize": 14, "labelColor": "black",
                "labelPadding": 7, "tickSize": 4, "tickColor": "black", "domain": false,
                "labelOverlap": false, "labelBound": false, "labelFlush": false, "title": null
              }
            },
            "y": {
              "field": "t", "type": "quantitative",
              "scale": {"domain": [0, 6100], "nice": false},
              "axis": {
                "values": [0, 1000, 2000, 3000, 4000, 5000, 6000], "tickCount": 20, "format": "d", "offset": -21,
                "labelFontSize": 14, "labelFontWeight": "bold", "labelColor": "black", "tickSize": 5, "tickColor": "#333333",
                "domainColor": "#333333", "domainWidth": 1.5, "labelPadding": 4, "title": null
              }
            },
            "detail": {"field": "s"},
            "color": {
              "datum": "Total",
              "scale": {"domain": ["Medical Reason", "Total"], "range": ["#0000cc", "#3ff0f0"]},
              "legend": {
                "orient": "none", "legendX": 455, "legendY": -33, "direction": "horizontal", "title": null,
                "strokeColor": "black", "fillColor": "white", "padding": 1, "symbolType": "stroke", "symbolSize": 480,
                "symbolStrokeWidth": 1.5, "labelFontSize": 14.5, "labelFontWeight": "bold", "labelColor": "black", "labelOffset": 6, "columnPadding": 40
              }
            }
          }
        },
        {
          "data": {"name": "abs"},
          "transform": [{"calculate": "year(datum.d) + (month(datum.d) > 6 ? 1 : 0)", "as": "s"}],
          "mark": {"type": "line", "strokeWidth": 1.5, "clip": true},
          "encoding": {
            "x": {"field": "d", "type": "temporal", "title": null},
            "y": {"field": "m", "type": "quantitative", "title": null},
            "detail": {"field": "s"},
            "color": {"datum": "Medical Reason"}
          }
        },
        {
          "data": {"name": "gr"},
          "mark": {"type": "rule", "color": "#33cc33", "strokeWidth": 1.2},
          "encoding": {
            "x": {"field": "g", "type": "temporal", "title": null},
            "y": {"field": "a", "type": "quantitative", "title": null},
            "y2": {"field": "b"}
          }
        }
      ]
    },
    {
      "spacing": 17,
      "vconcat": [
        {
          "width": 612,
          "height": 243,
          "data": {"name": "ac"},
          "encoding": {
            "x": {
              "field": "m", "type": "ordinal",
              "scale": {"type": "point", "padding": 0.35, "domain": ["Sep 2007", "Oct", "Nov", "Dec", "Jan 2008", "Feb", "Mar", "Apr", "May", "Jun"]},
              "axis": {
                "labelAngle": 0, "labelFont": "Liberation Serif", "labelFontSize": 13.5, "labelColor": "black", "labelPadding": 2,
                "labelAlign": {"condition": {"test": "indexof(datum.label, ' ') > 0", "value": "left"}, "value": "center"},
                "labelOffset": {"condition": {"test": "indexof(datum.label, ' ') > 0", "value": -19}, "value": 0},
                "domain": false, "ticks": false, "title": null
              }
            }
          },
          "layer": [
            {"data": {"values": [{}]}, "mark": {"type": "rule", "color": "#7f909b", "strokeWidth": 1.5}, "encoding": {"x": null, "y": {"datum": 13.16, "type": "quantitative", "scale": {"domain": [1.5, 16], "nice": false, "zero": false}, "axis": {"values": [2, 4, 6, 8, 10, 12, 14], "tickCount": 20, "format": "02d", "labelFont": "Liberation Serif", "labelFontSize": 14, "labelColor": "black", "tickSize": 9, "tickColor": "black", "domain": false, "labelPadding": 1, "title": null}}}},
            {"data": {"values": [{}]}, "mark": {"type": "rule", "color": "#e2e2e2", "strokeWidth": 1.5}, "encoding": {"x": null, "y": {"datum": 8.03, "type": "quantitative"}}},
            {"data": {"values": [{}]}, "mark": {"type": "rule", "color": "#5c6f7d", "strokeWidth": 1.5}, "encoding": {"x": null, "y": {"datum": 3.07, "type": "quantitative"}}},
            {"mark": {"type": "line", "color": "#141466", "strokeWidth": 3, "strokeDash": [14, 9]}, "encoding": {"y": {"field": "allHi", "type": "quantitative", "title": null}}},
            {"mark": {"type": "line", "color": "#141466", "strokeWidth": 3, "strokeDash": [14, 9]}, "encoding": {"y": {"field": "allLo", "type": "quantitative", "title": null}}},
            {"mark": {"type": "line", "color": "#141466", "strokeWidth": 3, "point": {"shape": "diamond", "size": 190, "filled": true, "color": "#141466"}}, "encoding": {"y": {"field": "all", "type": "quantitative", "title": null}}},
            {"data": {"values": [{"m": "Sep 2007", "v": 14.6, "txt": "% absent"}]}, "mark": {"type": "text", "align": "left", "dx": 14, "font": "Liberation Serif", "fontSize": 13.5, "color": "black"}, "encoding": {"y": {"field": "v", "type": "quantitative"}, "text": {"field": "txt"}}},
            {"data": {"values": [{"m": "Jan 2008", "v": 15.0, "txt": "155 elementary schools in York,Ontario,CA"}]}, "mark": {"type": "text", "align": "left", "dx": 2, "font": "Liberation Serif", "fontSize": 13.2, "color": "black"}, "encoding": {"y": {"field": "v", "type": "quantitative"}, "text": {"field": "txt"}}},
            {"data": {"values": [{"m": "Feb", "v": 9.1, "txt": "all causes"}]}, "mark": {"type": "text", "align": "left", "dx": -18, "font": "Liberation Serif", "fontSize": 13.5, "color": "black"}, "encoding": {"y": {"field": "v", "type": "quantitative"}, "text": {"field": "txt"}}}
          ]
        },
        {
          "spacing": 25,
          "vconcat": [
            {
              "width": 616,
              "height": 166,
              "data": {"name": "ac"},
              "encoding": {
                "x": {
                  "field": "m", "type": "ordinal",
                  "scale": {"type": "band", "paddingInner": 0, "paddingOuter": 0, "domain": ["Sep 2007", "Oct", "Nov", "Dec", "Jan 2008", "Feb", "Mar", "Apr", "May", "Jun"]},
                  "axis": {"labels": false, "tickBand": "extent", "tickSize": 4, "tickColor": "#3f5f70", "domainColor": "#3f5f70", "domainWidth": 2.5, "title": null}
                }
              },
              "layer": [
                {"data": {"values": [{}]}, "mark": {"type": "rule", "color": "#dedede", "strokeWidth": 1.5}, "encoding": {"x": null, "y": {"datum": 5.4, "type": "quantitative", "scale": {"domain": [-0.1, 8.56], "nice": false, "zero": false}, "axis": {"values": [2, 4, 6, 8], "tickCount": 20, "format": "02d", "labelFont": "Liberation Serif", "labelFontSize": 14, "labelColor": "black", "tickSize": 8, "tickColor": "black", "domainColor": "#2f4d5f", "domainWidth": 2.5, "labelPadding": 1, "title": null}}}},
                {"data": {"values": [{}]}, "mark": {"type": "rule", "color": "#5e7280", "strokeWidth": 1.5}, "encoding": {"x": null, "y": {"datum": 1.0, "type": "quantitative"}}},
                {"mark": {"type": "line", "color": "#e61ee6", "strokeWidth": 3, "strokeDash": [14, 9]}, "encoding": {"y": {"field": "illHi", "type": "quantitative", "title": null}}},
                {"mark": {"type": "line", "color": "#e61ee6", "strokeWidth": 3, "strokeDash": [14, 9]}, "encoding": {"y": {"field": "illLo", "type": "quantitative", "title": null}}},
                {"mark": {"type": "line", "color": "#ff00ff", "strokeWidth": 3, "point": {"shape": "square", "size": 190, "filled": true, "color": "#ff00ff"}}, "encoding": {"y": {"field": "ill", "type": "quantitative", "title": null}}},
                {"data": {"values": [{"m": "Jan 2008", "v": 4.33, "txt": "illness"}]}, "mark": {"type": "text", "align": "left", "font": "Liberation Serif", "fontSize": 13.5, "color": "black"}, "encoding": {"y": {"field": "v", "type": "quantitative"}, "text": {"field": "txt"}}}
              ]
            },
            {
              "spacing": 36,
              "vconcat": [
                {
                  "width": 520,
                  "height": 285,
                  "title": {"text": "number of confirmed cases", "anchor": "start", "dx": 8, "font": "Liberation Serif", "fontSize": 14, "fontWeight": "normal", "color": "black", "offset": 1},
                  "resolve": {"scale": {"y": "independent"}},
                  "layer": [
                    {
                      "data": {"name": "cc"},
                      "encoding": {
                        "x": {
                          "field": "m", "type": "ordinal",
                          "scale": {"type": "point", "padding": 0.355, "domain": ["Sep 2006", "Oct", "Nov", "Dec", "Jan 2007", "Feb", "Mar", "Apr", "May", "Jun"]},
                          "axis": {
                            "labelAngle": 0, "labelFont": "Liberation Serif", "labelFontSize": 13, "labelColor": "black", "labelPadding": 6,
                            "labelAlign": {"condition": {"test": "indexof(datum.label, ' ') > 0", "value": "left"}, "value": "center"},
                            "labelOffset": {"condition": {"test": "indexof(datum.label, ' ') > 0", "value": -10}, "value": 0},
                            "domain": false, "ticks": false, "title": null
                          }
                        }
                      },
                      "layer": [
                        {"data": {"values": [{}]}, "mark": {"type": "rule", "color": "#dadada", "strokeWidth": 1.5}, "encoding": {"x": null, "y": {"datum": 19.7, "type": "quantitative", "scale": {"domain": [-1.54, 47.26], "nice": false, "zero": false}, "axis": {"orient": "left", "offset": -5, "values": [0, 5, 10, 15, 20, 25, 30, 35, 40, 45], "tickCount": 30, "format": "02d", "labelFont": "Liberation Serif", "labelFontSize": 14, "labelColor": "black", "tickSize": 12, "tickColor": "black", "domain": false, "labelPadding": 0, "labelOverlap": false, "title": null}}}},
                        {"data": {"values": [{}]}, "mark": {"type": "rule", "color": "#b4b4b4", "strokeWidth": 1.5}, "encoding": {"x": null, "y": {"datum": 5.1, "type": "quantitative"}}},
                        {"mark": {"type": "line", "color": "#33ee33", "strokeWidth": 1.5, "point": {"shape": "circle", "size": 36, "filled": true, "color": "#22dd22"}}, "encoding": {"y": {"field": "resp", "type": "quantitative", "title": null}}},
                        {"mark": {"type": "line", "color": "#1515dd", "strokeWidth": 1.3, "point": {"shape": "circle", "size": 36, "filled": true, "color": "#1515dd"}}, "encoding": {"y": {"field": "flu", "type": "quantitative", "title": null}}},
                        {"data": {"values": [{"m": "Oct", "v": 26.7, "txt": "respiratory"}]}, "mark": {"type": "text", "align": "left", "dx": -37, "font": "Liberation Serif", "fontSize": 13, "color": "black"}, "encoding": {"y": {"field": "v", "type": "quantitative"}, "text": {"field": "txt"}}},
                        {"data": {"values": [{"m": "Nov", "v": 11.0, "txt": "influenza"}]}, "mark": {"type": "text", "align": "left", "dx": -24, "font": "Liberation Serif", "fontSize": 13.5, "color": "black"}, "encoding": {"y": {"field": "v", "type": "quantitative"}, "text": {"field": "txt"}}}
                      ]
                    },
                    {
                      "data": {"values": [{"m": "Apr", "v": 1.0, "txt": "% absent"}]},
                      "mark": {"type": "text", "align": "left", "dx": 9, "font": "Liberation Serif", "fontSize": 13.5, "color": "black"},
                      "encoding": {
                        "x": {"field": "m", "type": "ordinal"},
                        "y": {"field": "v", "type": "quantitative", "scale": {"domain": [-0.041, 1.127], "nice": false, "zero": false}, "axis": {"orient": "right", "offset": -3, "values": [0, 0.5, 1], "tickCount": 20, "format": ".1f", "labelFont": "Liberation Serif", "labelFontSize": 14, "labelColor": "black", "tickSize": 9, "tickColor": "black", "domain": false, "labelPadding": 8, "labelOverlap": false, "title": null}},
                        "text": {"field": "txt"}
                      }
                    }
                  ]
                },
                {
                  "width": 562,
                  "height": 330,
                  "layer": [
                    {"data": {"values": [{}]}, "mark": {"type": "rule", "color": "#8c9ba6", "strokeWidth": 1.5}, "encoding": {"y": {"datum": 1.293, "type": "quantitative", "scale": {"domain": [0, 1.8], "nice": false}}}},
                    {"data": {"values": [{}]}, "mark": {"type": "rule", "color": "#dde3e8", "strokeWidth": 1.5}, "encoding": {"y": {"datum": 0.829, "type": "quantitative"}}},
                    {"data": {"values": [{}]}, "mark": {"type": "rule", "color": "#5f7585", "strokeWidth": 1.5}, "encoding": {"y": {"datum": 0.37, "type": "quantitative"}}},
                    {
                      "data": {"name": "bars"},
                      "mark": {"type": "rule", "color": "#7d80b8", "strokeWidth": 1.5, "opacity": 0.85},
                      "encoding": {
                        "x": {"field": "d", "type": "temporal"},
                        "y": {"field": "a", "type": "quantitative"},
                        "y2": {"field": "b"}
                      }
                    },
                    {
                      "data": {"name": "daily"},
                      "transform": [{"calculate": "datum.d < datetime(2006, 11, 25) ? 1 : (datum.d < datetime(2007, 2, 12) ? 2 : 3)", "as": "seg"}],
                      "mark": {"type": "line", "color": "#22ee22", "strokeWidth": 1.2, "point": {"shape": "diamond", "size": 30, "filled": true, "color": "#22ee22"}},
                      "encoding": {
                        "x": {
                          "field": "d", "type": "temporal",
                          "scale": {"domain": [{"year": 2006, "month": 9, "date": 3}, {"year": 2007, "month": 6, "date": 30}]},
                          "axis": {
                            "tickCount": {"interval": "day", "step": 1},
                            "labelExpr": "round((datum.value - datetime(2006, 8, 4)) / 864e5) % 14 == 0 ? timeFormat(datum.value, '%d/%m/%Y') : ''",
                            "labelAngle": -90, "labelFontSize": 14, "labelFontWeight": "bold", "labelColor": "#111111", "labelPadding": 3,
                            "tickSize": 7, "tickColor": "#3d6e8c", "tickWidth": 1, "domainColor": "#2a5570", "domainWidth": 2,
                            "labelOverlap": false, "labelBound": false, "labelFlush": false, "title": null
                          }
                        },
                        "y": {
                          "field": "v", "type": "quantitative",
                          "axis": {"orient": "right", "values": [0, 0.2, 0.4, 0.6, 0.8, 1.0, 1.2, 1.4, 1.6, 1.8], "tickCount": 30, "labelExpr": "format(datum.value, '.1f') + '%'", "labelFontSize": 17, "labelColor": "#1a1a1a", "tickSize": 6, "tickColor": "black", "domainColor": "black", "domainWidth": 2, "labelPadding": 3, "labelOverlap": false, "title": null}
                        },
                        "detail": {"field": "seg"}
                      }
                    }
                  ]
                }
              ]
            }
          ]
        }
      ]
    }
  ]
}
